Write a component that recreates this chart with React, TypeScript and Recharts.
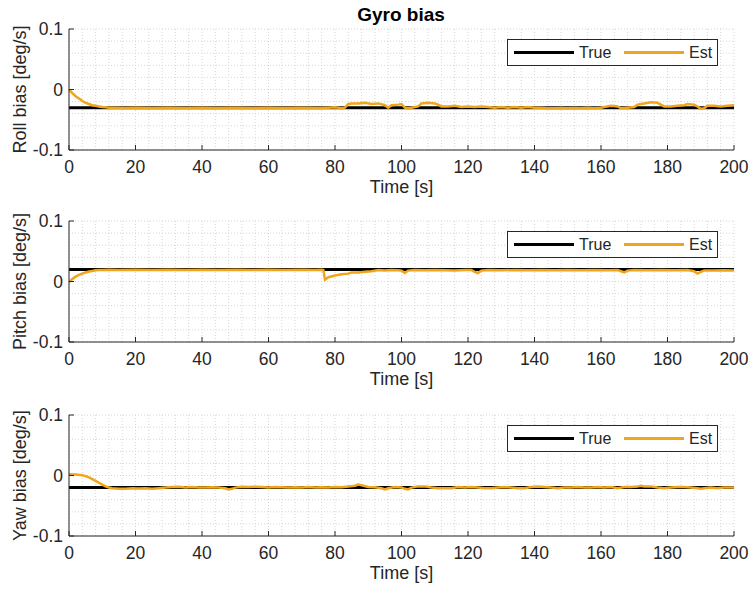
import React from 'react';
import { LineChart, Line, XAxis, YAxis, CartesianGrid, Legend } from 'recharts';

const FONT = '"Liberation Sans", Arial, Helvetica, sans-serif';
const INK = '#262626';
const EST_COLOR = '#f0a51a';

// x ticks: labelled every 20 s, grid every 4 s
const timeLabels = [0, 20, 40, 60, 80, 100, 120, 140, 160, 180, 200];
const timeGrid = Array.from({ length: 51 }, (_, i) => i * 4);
// y ticks: labelled at -0.1 / 0 / 0.1, grid every 0.02
const biasLabels = [-0.1, 0, 0.1];
const biasGrid = [-0.1, -0.08, -0.06, -0.04, -0.02, 0, 0.02, 0.04, 0.06, 0.08, 0.1];
const legendOrder = ['True', 'Est'];

// roll
const rollTrue = -0.03;
const rollTime = [0, 1, 2, 3, 4, 5, 6, 7, 8, 9, 10, 11, 12, 14, 17, 20, 25, 30, 35, 40, 45, 50, 55, 60, 65, 70, 75, 78, 80, 82, 83, 84, 85, 87, 89, 91, 93, 95, 96, 97, 99, 100, 101, 102, 103, 105, 106, 108, 110, 111, 112, 114, 116, 118, 120, 122, 124, 126, 128, 130, 132, 134, 136, 138, 140, 142, 144, 146, 148, 150, 152, 154, 156, 158, 160, 161, 163, 165, 166, 168, 170, 171, 173, 175, 177, 178, 179, 181, 183, 185, 186, 188, 189, 190, 191, 192, 194, 196, 198, 200];
const rollEst = [0.0, -0.006, -0.011, -0.015, -0.019, -0.022, -0.024, -0.026, -0.027, -0.028, -0.029, -0.0295, -0.03, -0.03, -0.0305, -0.03, -0.0305, -0.03, -0.0305, -0.03, -0.0305, -0.03, -0.0305, -0.03, -0.0305, -0.03, -0.0305, -0.03, -0.0295, -0.031, -0.03, -0.024, -0.023, -0.023, -0.022, -0.024, -0.023, -0.026, -0.03, -0.026, -0.025, -0.024, -0.03, -0.031, -0.03, -0.028, -0.023, -0.022, -0.023, -0.025, -0.028, -0.028, -0.027, -0.029, -0.028, -0.029, -0.028, -0.029, -0.03, -0.029, -0.03, -0.029, -0.03, -0.029, -0.03, -0.03, -0.031, -0.031, -0.0305, -0.031, -0.0305, -0.031, -0.03, -0.031, -0.03, -0.029, -0.027, -0.028, -0.031, -0.03, -0.029, -0.025, -0.023, -0.021, -0.022, -0.025, -0.028, -0.028, -0.027, -0.026, -0.024, -0.025, -0.028, -0.032, -0.031, -0.027, -0.027, -0.028, -0.027, -0.026];

// pitch
const pitchTrue = 0.02;
const pitchTime = [0, 1, 2, 3, 4, 5, 6, 7, 8, 9, 10, 12, 15, 20, 25, 30, 35, 40, 45, 50, 55, 60, 65, 70, 74, 76, 76.5, 77, 78, 80, 82, 84, 85, 87, 89, 91, 93, 95, 97, 99, 100, 101, 102, 104, 107, 110, 113, 116, 119, 121, 122, 123, 124, 126, 130, 134, 138, 142, 146, 150, 154, 158, 162, 165, 166, 167, 168, 170, 174, 178, 182, 186, 188, 189, 190, 191, 194, 197, 200];
const pitchEst = [-0.001, 0.004, 0.008, 0.011, 0.013, 0.015, 0.0165, 0.0175, 0.0185, 0.019, 0.019, 0.0195, 0.019, 0.0195, 0.019, 0.0195, 0.019, 0.0195, 0.019, 0.0195, 0.019, 0.0195, 0.019, 0.0195, 0.019, 0.0195, 0.019, 0.003, 0.007, 0.01, 0.012, 0.013, 0.015, 0.015, 0.016, 0.017, 0.019, 0.018, 0.019, 0.0185, 0.018, 0.014, 0.018, 0.019, 0.0185, 0.019, 0.0185, 0.018, 0.019, 0.019, 0.016, 0.014, 0.018, 0.019, 0.0185, 0.019, 0.0185, 0.019, 0.0185, 0.019, 0.0185, 0.019, 0.0185, 0.019, 0.017, 0.015, 0.018, 0.019, 0.0185, 0.019, 0.0185, 0.019, 0.017, 0.013, 0.016, 0.018, 0.018, 0.0185, 0.018];

// yaw
const yawTrue = -0.02;
const yawTime = [0, 2, 4, 5, 6, 7, 8, 9, 10, 11, 12, 13, 15, 17, 19, 21, 23, 25, 27, 29, 31, 33, 35, 37, 39, 41, 43, 45, 47, 48, 49, 50, 52, 54, 56, 58, 60, 62, 64, 66, 68, 70, 72, 74, 76, 78, 80, 82, 84, 86, 87, 88, 90, 92, 94, 95, 96, 98, 100, 101, 102, 103, 105, 107, 109, 111, 113, 115, 117, 119, 121, 123, 125, 127, 129, 131, 133, 135, 137, 139, 141, 143, 145, 147, 149, 151, 153, 155, 157, 159, 161, 163, 165, 167, 169, 171, 172, 173, 175, 177, 179, 181, 183, 185, 187, 189, 190, 191, 193, 195, 197, 200];
const yawEst = [0.002, 0.0015, 0.0005, -0.001, -0.003, -0.006, -0.009, -0.012, -0.015, -0.018, -0.02, -0.021, -0.022, -0.022, -0.021, -0.0215, -0.021, -0.022, -0.021, -0.02, -0.019, -0.0185, -0.02, -0.019, -0.02, -0.02, -0.0195, -0.02, -0.021, -0.023, -0.022, -0.02, -0.0185, -0.019, -0.0185, -0.019, -0.02, -0.019, -0.0195, -0.02, -0.0195, -0.02, -0.019, -0.02, -0.0195, -0.02, -0.019, -0.0195, -0.018, -0.017, -0.015, -0.016, -0.019, -0.0195, -0.021, -0.023, -0.021, -0.019, -0.02, -0.022, -0.023, -0.02, -0.018, -0.018, -0.02, -0.021, -0.021, -0.021, -0.019, -0.02, -0.019, -0.02, -0.021, -0.021, -0.02, -0.019, -0.02, -0.021, -0.021, -0.019, -0.018, -0.019, -0.02, -0.021, -0.02, -0.02, -0.019, -0.02, -0.02, -0.019, -0.02, -0.019, -0.021, -0.019, -0.019, -0.018, -0.017, -0.018, -0.018, -0.02, -0.021, -0.02, -0.019, -0.019, -0.02, -0.021, -0.022, -0.021, -0.02, -0.021, -0.02, -0.02];

const isMajorTime = (v: number) => timeLabels.includes(v);
const isMajorBias = (v: number) => biasLabels.some((b) => Math.abs(b - v) < 1e-9);

const TimeTick = (props: any) => {
  const { x, y, payload } = props;
  if (!isMajorTime(payload.value)) return <g />;
  return (
    <g>
      <line x1={x} y1={y} x2={x} y2={y - 5} stroke={INK} />
      <text x={x} y={y + 17} textAnchor="middle" dominantBaseline="central"
        fontFamily={FONT} fontSize={17.5} fill={INK}>{payload.value}</text>
    </g>
  );
};

const BiasTick = (props: any) => {
  const { x, y, payload } = props;
  if (!isMajorBias(payload.value)) return <g />;
  const v = payload.value;
  return (
    <g>
      <line x1={x} y1={y} x2={x + 5} y2={y} stroke={INK} />
      <text x={x - 6} y={y} textAnchor="end" dominantBaseline="central"
        fontFamily={FONT} fontSize={17.5} fill={INK}>{Math.abs(v) < 1e-9 ? '0' : String(v)}</text>
    </g>
  );
};

const LegendBox = (props: any) => {
  const found = props.payload || [];
  const items = legendOrder
    .map((name) => found.find((it: any) => it.value === name))
    .filter(Boolean);
  const slots = [6, 116];
  return (
    <div style={{
      position: 'relative', width: 211, height: 27, boxSizing: 'border-box',
      border: `1px solid ${INK}`, background: '#fff', fontFamily: FONT, fontSize: 16, color: INK,
    }}>
      {items.map((it: any, i: number) => (
        <React.Fragment key={it.value}>
          <div style={{
            position: 'absolute', left: slots[i], top: 11, width: 60, height: 3, background: it.color,
          }} />
          <span style={{ position: 'absolute', left: slots[i] + 65, top: 3, lineHeight: '19px' }}>{it.value}</span>
        </React.Fragment>
      ))}
    </div>
  );
};

type PanelProps = {
  top: number;
  yLabel: string;
  time: number[];
  est: number[];
  truth: number;
};

const BiasPanel = ({ top, yLabel, time, est, truth }: PanelProps) => {
  const data = time.map((t, i) => ({ t, truth, est: est[i] }));
  return (
    <div style={{ position: 'absolute', left: 0, top, width: 752, height: 200 }}>
      <LineChart width={752} height={200} data={data} margin={{ top: 29, right: 18, bottom: 5, left: 0 }}>
        <CartesianGrid stroke="#d6d6d6" strokeDasharray="1 2" />
        <XAxis
          dataKey="t" type="number" domain={[0, 200]} ticks={timeGrid} interval={0}
          tick={<TimeTick />} tickLine={false} tickSize={0} tickMargin={0} height={45}
          axisLine={{ stroke: INK }}
          label={{
            content: (p: any) => {
              const vb = p.viewBox;
              return (
                <text x={vb.x + vb.width / 2} y={vb.y + 37} textAnchor="middle" dominantBaseline="central"
                  fontFamily={FONT} fontSize={18} fill={INK}>Time [s]</text>
              );
            },
          }}
        />
        <YAxis
          type="number" domain={[-0.1, 0.1]} ticks={biasGrid} interval={0}
          tick={<BiasTick />} tickLine={false} tickSize={0} tickMargin={0} width={69}
          axisLine={{ stroke: INK }}
          label={{
            content: (p: any) => {
              const vb = p.viewBox;
              const cy = vb.y + vb.height / 2;
              return (
                <text x={20} y={cy} textAnchor="middle" dominantBaseline="central"
                  transform={`rotate(-90 20 ${cy})`} fontFamily={FONT} fontSize={18} fill={INK}>{yLabel}</text>
              );
            },
          }}
        />
        <Line dataKey="truth" name="True" type="linear" stroke="#000000" strokeWidth={3}
          dot={false} activeDot={false} isAnimationActive={false} />
        <Line dataKey="est" name="Est" type="linear" stroke={EST_COLOR} strokeWidth={2.5}
          dot={false} activeDot={false} isAnimationActive={false} />
        <Legend layout="horizontal" verticalAlign="middle" align="center" content={<LegendBox />}
          wrapperStyle={{ left: 507, top: 39, width: 211, height: 27 }} />
      </LineChart>
    </div>
  );
}

export default function App() {
  return (
    <div style={{ position: 'absolute', left: 0, top: 0, width: 752, height: 592, background: '#fff' }}>
      <div style={{
        position: 'absolute', left: 0, top: 4, width: 802, textAlign: 'center',
        fontFamily: FONT, fontWeight: 'bold', fontSize: 19, color: '#000',
      }}>Gyro bias</div>
      <BiasPanel top={0} yLabel="Roll bias [deg/s]" time={rollTime} est={rollEst} truth={rollTrue} />
      <BiasPanel top={192} yLabel="Pitch bias [deg/s]" time={pitchTime} est={pitchEst} truth={pitchTrue} />
      <BiasPanel top={386} yLabel="Yaw bias [deg/s]" time={yawTime} est={yawEst} truth={yawTrue} />
    </div>
  );
}
